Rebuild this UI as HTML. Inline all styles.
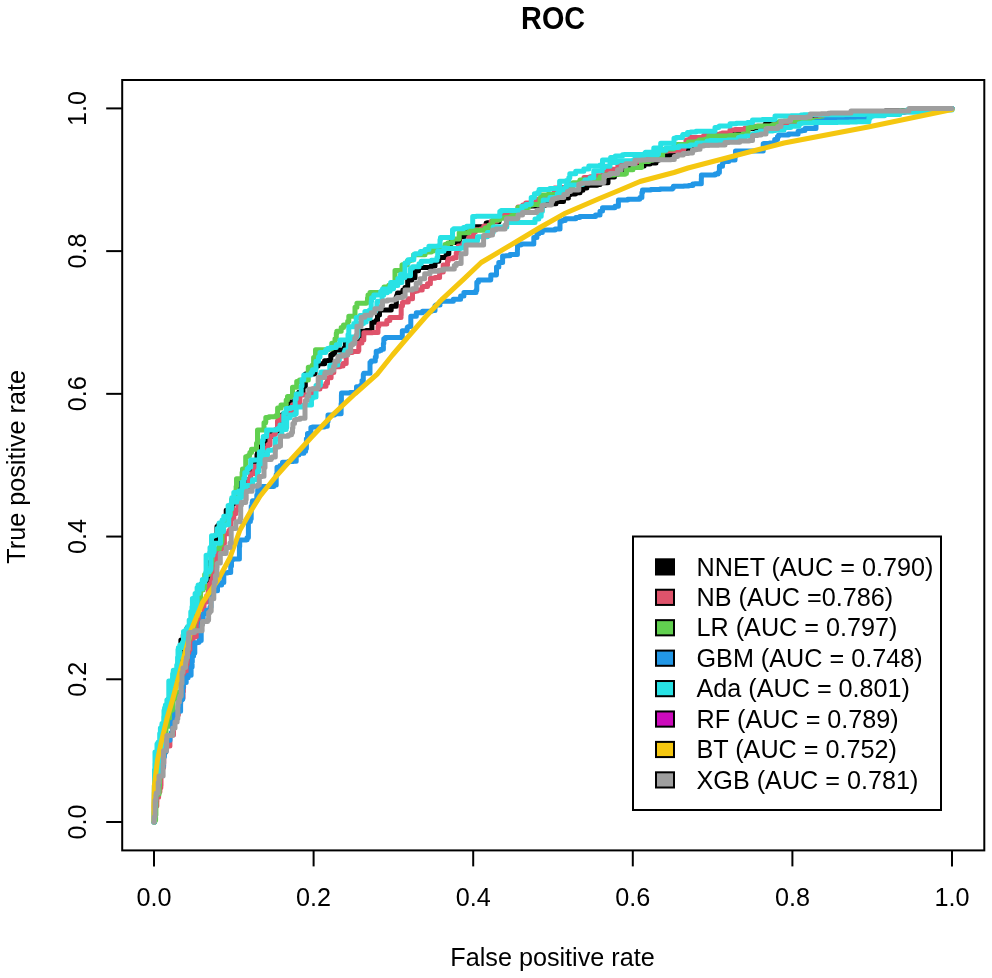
<!DOCTYPE html>
<html><head><meta charset="utf-8"><title>ROC</title>
<style>
html,body{margin:0;padding:0;background:#fff;}
svg{display:block;}
text{font-family:"Liberation Sans",sans-serif;fill:#000;}
</style></head>
<body>
<svg width="992" height="978" viewBox="0 0 992 978">
<rect x="0" y="0" width="992" height="978" fill="#ffffff"/>
<g id="curves">
<polyline points="154.0,822.0 154.3,822.0 154.3,821.1 154.3,819.2 154.5,819.2 155.0,819.2 155.0,808.5 155.0,802.5 155.5,802.5 155.5,798.3 155.7,798.3 156.0,798.3 156.0,792.0 156.0,791.0 156.0,791.0 156.0,784.9 156.0,784.7 156.2,784.7 156.2,779.4 156.5,779.4 156.5,778.1 156.9,778.1 156.9,761.0 156.9,761.0 156.9,759.0 157.0,759.0 157.0,754.0 159.0,754.0 159.9,754.0 159.9,750.7 159.9,745.0 161.8,745.0 162.2,745.0 162.2,734.8 163.2,734.8 163.2,734.5 163.2,730.8 164.0,730.8 164.0,730.8 164.0,727.0 164.2,727.0 164.2,722.7 167.0,722.7 167.0,720.9 167.0,716.6 167.5,716.6 167.5,713.3 169.1,713.3 169.3,713.3 169.3,707.1 170.0,707.1 170.0,702.0 170.0,698.9 171.6,698.9 171.6,694.0 173.0,694.0 173.1,694.0 173.1,690.6 174.4,690.6 174.4,686.1 175.0,686.1 175.0,682.1 175.0,682.1 175.0,674.0 176.3,674.0 176.3,673.9 177.8,673.9 177.8,667.3 178.2,667.3 178.2,662.5 179.7,662.5 179.7,660.3 180.2,660.3 180.2,650.1 180.5,650.1 180.5,649.0 180.9,649.0 180.9,645.8 180.9,639.9 183.3,639.9 183.3,635.1 184.1,635.1 184.1,633.0 187.0,633.0 187.0,628.0 189.4,628.0 189.4,626.3 189.8,626.3 189.8,622.0 191.5,622.0 195.3,622.0 195.3,618.9 196.7,618.9 196.7,612.4 196.7,612.2 197.1,612.2 197.1,610.0 198.0,610.0 198.0,607.7 198.0,607.7 198.0,602.8 198.5,602.8 199.5,602.8 199.5,596.9 199.5,589.0 200.0,589.0 200.0,585.4 201.5,585.4 201.5,584.0 205.5,584.0 205.7,584.0 205.7,583.4 205.7,583.3 206.2,583.3 206.7,583.3 206.7,578.9 208.0,578.9 208.0,576.7 208.2,576.7 208.2,566.1 208.2,562.8 208.6,562.8 211.3,562.8 211.3,555.4 212.0,555.4 212.0,549.0 213.1,549.0 213.1,544.3 213.1,541.2 214.6,541.2 217.0,541.2 217.0,537.0 217.0,526.5 217.3,526.5 218.5,526.5 218.5,525.4 218.5,525.0 222.0,525.0 224.5,525.0 224.5,524.8 226.2,524.8 226.2,524.3 226.2,510.3 229.4,510.3 231.4,510.3 231.4,509.2 232.0,509.2 232.0,507.0 232.0,503.5 233.8,503.5 234.5,503.5 234.5,503.2 234.5,497.0 235.5,497.0 236.5,497.0 236.5,496.6 236.5,493.0 240.5,493.0 240.5,482.5 242.1,482.5 242.1,482.2 243.0,482.2 243.0,481.0 245.5,481.0 249.4,481.0 249.4,478.9 250.4,478.9 250.4,477.6 250.5,477.6 250.5,471.0 252.7,471.0 252.7,466.6 252.7,464.8 256.2,464.8 257.0,464.8 257.0,462.0 257.0,454.6 257.6,454.6 257.6,450.0 258.3,450.0 258.6,450.0 258.6,446.8 263.8,446.8 263.8,445.2 264.5,445.2 264.5,442.0 264.5,441.0 265.5,441.0 265.5,436.5 271.2,436.5 272.0,436.5 272.0,432.0 279.9,432.0 279.9,430.3 279.9,428.9 280.3,428.9 282.0,428.9 282.0,427.0 282.0,419.1 282.5,419.1 282.5,414.5 283.3,414.5 283.6,414.5 283.6,414.0 288.0,414.0 288.0,413.0 288.0,412.5 288.1,412.5 288.9,412.5 288.9,411.6 288.9,401.9 294.7,401.9 294.7,400.5 298.0,400.5 298.8,400.5 298.8,399.4 298.8,392.3 299.2,392.3 303.0,392.3 303.0,389.5 303.0,386.3 303.7,386.3 305.3,386.3 305.3,383.5 305.3,377.0 305.5,377.0 305.5,374.1 305.6,374.1 312.5,374.1 312.5,374.0 314.2,374.0 314.2,373.5 315.0,373.5 315.0,366.7 315.0,366.0 318.0,366.0 318.0,363.8 320.0,363.8 324.6,363.8 324.6,360.7 327.5,360.7 327.5,360.6 330.8,360.6 330.8,359.1 330.8,355.0 332.5,355.0 332.5,353.6 333.2,353.6 334.7,353.6 334.7,350.1 341.2,350.1 341.2,350.0 344.5,350.0 344.5,347.5 344.5,347.4 345.4,347.4 345.4,343.2 351.4,343.2 352.0,343.2 352.0,342.0 352.0,341.2 352.3,341.2 355.5,341.2 355.5,341.2 355.5,339.4 360.3,339.4 360.5,339.4 360.5,336.1 360.5,331.2 366.2,331.2 366.2,330.4 368.0,330.4 371.9,330.4 371.9,322.3 376.0,322.3 376.0,320.6 377.5,320.6 377.5,320.0 377.5,314.9 378.2,314.9 379.5,314.9 379.5,310.8 379.5,310.0 383.8,310.0 383.8,309.9 390.6,309.9 391.2,309.9 391.2,306.2 396.3,306.2 396.3,297.9 396.3,296.8 396.9,296.8 396.9,295.0 397.5,295.0 397.5,293.1 398.7,293.1 402.9,293.1 402.9,290.0 405.0,290.0 405.0,287.5 407.7,287.5 407.7,283.4 407.7,280.0 410.0,280.0 411.7,280.0 411.7,279.8 411.7,277.7 412.0,277.7 415.0,277.7 415.0,271.2 415.0,270.8 415.6,270.8 418.5,270.8 418.5,270.7 418.5,267.5 425.0,267.5 429.0,267.5 429.0,267.5 431.1,267.5 431.1,266.0 435.0,266.0 435.0,261.2 438.8,261.2 438.8,258.7 438.8,257.5 443.8,257.5 446.1,257.5 446.1,255.5 446.2,255.5 446.2,253.9 448.8,253.9 448.8,248.8 448.8,244.7 450.5,244.7 450.5,242.5 455.0,242.5 459.6,242.5 459.6,241.3 459.6,236.8 462.9,236.8 464.0,236.8 464.0,235.0 467.6,235.0 467.6,229.7 472.3,229.7 472.3,229.5 473.8,229.5 473.8,227.5 473.8,226.7 480.9,226.7 485.8,226.7 485.8,226.4 486.2,226.4 486.2,223.0 487.2,223.0 487.2,222.7 492.8,222.7 492.8,221.7 499.0,221.7 499.0,218.9 499.0,217.2 499.7,217.2 505.0,217.2 505.0,215.0 507.9,215.0 507.9,211.9 507.9,210.4 521.3,210.4 522.7,210.4 522.7,210.1 522.7,208.5 525.1,208.5 525.1,208.0 526.0,208.0 526.0,206.2 527.8,206.2 530.6,206.2 530.6,206.1 530.6,206.0 540.0,206.0 540.0,206.0 541.9,206.0 541.9,205.4 544.0,205.4 544.7,205.4 544.7,203.8 556.0,203.8 556.0,203.0 556.0,201.6 557.9,201.6 563.5,201.6 563.5,200.3 563.5,198.0 565.0,198.0 568.4,198.0 568.4,194.8 570.0,194.8 570.0,194.0 575.5,194.0 575.5,192.8 580.0,192.8 580.0,191.5 580.0,190.2 582.9,190.2 582.9,188.0 585.0,188.0 586.8,188.0 586.8,186.1 586.8,185.3 596.2,185.3 597.1,185.3 597.1,184.6 600.0,184.6 600.0,184.5 600.0,182.7 602.5,182.7 608.0,182.7 608.0,181.0 608.0,179.2 608.0,177.0 612.0,177.0 614.4,177.0 614.4,174.7 614.4,174.0 618.0,174.0 618.0,172.5 621.2,172.5 621.2,170.0 623.0,170.0 624.9,170.0 624.9,168.2 630.0,168.2 630.0,167.0 630.0,166.0 635.1,166.0 640.0,166.0 640.0,166.0 644.1,166.0 644.1,164.5 644.1,164.0 650.0,164.0 650.0,163.0 656.0,163.0 656.0,160.3 658.5,160.3 658.5,158.0 660.0,158.0 664.3,158.0 664.3,157.0 664.7,157.0 664.7,155.8 671.0,155.8 671.0,155.5 671.0,152.7 678.4,152.7 682.2,152.7 682.2,152.6 682.2,152.6 682.2,152.6 686.0,152.6 686.0,151.0 686.0,148.9 696.7,148.9 697.0,148.9 697.0,147.4 697.8,147.4 697.8,146.1 700.0,146.1 700.0,145.0 700.0,144.7 703.0,144.7 709.3,144.7 709.3,142.5 709.3,141.9 709.7,141.9 716.7,141.9 716.7,140.5 720.0,140.5 720.0,139.0 726.0,139.0 726.0,137.6 730.3,137.6 730.3,135.1 730.4,135.1 735.0,135.1 735.0,132.5 740.0,132.5 740.0,130.0 747.4,130.0 747.4,129.6 747.4,128.4 750.2,128.4 754.7,128.4 754.7,128.2 754.7,127.5 760.0,127.5 760.0,127.3 765.2,127.3 765.2,124.1 766.7,124.1 769.9,124.1 769.9,123.6 776.8,123.6 776.8,122.9 776.8,122.6 783.7,122.6 786.0,122.6 786.0,122.2 786.0,122.0 790.0,122.0 790.0,121.3 795.5,121.3 795.5,120.8 800.5,120.8 800.5,120.5 807.7,120.5 807.7,120.2 811.1,120.2 811.1,118.4 814.3,118.4 814.3,118.4 819.1,118.4 826.5,118.4 828.9,118.4 828.9,118.2 828.9,117.0 830.0,117.0 830.0,116.6 831.4,116.6 843.7,116.6 843.7,116.5 843.7,116.3 854.5,116.3 858.2,116.3 858.2,115.5 858.2,115.4 862.6,115.4 863.5,115.4 863.5,115.0 863.5,114.2 868.6,114.2 870.0,114.2 870.0,113.0 870.0,112.6 871.8,112.6 871.8,112.0 882.8,112.0 885.3,112.0 885.3,111.5 885.3,111.1 901.9,111.1 901.9,110.8 904.3,110.8 904.3,110.7 906.4,110.7 906.4,110.7 909.8,110.7 910.0,110.7 910.0,110.5 910.0,110.4 911.5,110.4 911.8,110.4 911.8,110.3 912.6,110.3 912.6,109.2 914.9,109.2 914.9,109.2 914.9,109.1 921.5,109.1 921.5,109.0 945.3,109.0 948.1,109.0 948.1,108.8 952.0,108.8 952.0,108.5" fill="none" stroke="#000000" stroke-width="5.0" stroke-linejoin="round" stroke-linecap="round"/>
<polyline points="154.0,822.0 154.2,822.0 154.2,814.6 154.3,814.6 154.3,805.9 156.8,805.9 156.8,804.3 156.8,801.9 156.9,801.9 156.9,798.0 157.0,798.0 157.0,797.2 158.6,797.2 158.6,791.8 159.9,791.8 159.9,787.8 160.8,787.8 160.8,785.5 161.0,785.5 161.0,785.5 161.0,775.0 161.1,775.0 161.1,771.9 161.1,767.5 162.2,767.5 163.6,767.5 163.6,763.3 163.8,763.3 163.8,752.0 166.0,752.0 166.0,752.0 166.0,746.0 169.8,746.0 169.9,746.0 169.9,735.6 170.5,735.6 170.5,735.3 170.5,735.0 171.0,735.0 173.5,735.0 173.5,729.0 173.7,729.0 173.7,726.5 173.7,720.9 175.6,720.9 176.0,720.9 176.0,718.0 176.0,714.7 177.1,714.7 178.4,714.7 178.4,711.5 178.4,704.0 179.6,704.0 180.6,704.0 180.6,699.8 181.0,699.8 181.0,698.0 183.0,698.0 183.0,693.8 183.0,691.8 183.1,691.8 183.4,691.8 183.4,687.8 183.6,687.8 183.6,679.3 185.0,679.3 185.0,678.0 185.2,678.0 185.2,675.9 185.8,675.9 185.8,673.5 185.8,672.5 187.6,672.5 187.6,660.5 188.0,660.5 189.0,660.5 189.0,658.0 189.0,654.9 189.1,654.9 190.7,654.9 190.7,651.5 190.7,645.9 191.9,645.9 193.0,645.9 193.0,640.0 193.0,637.2 193.1,637.2 193.1,636.7 194.3,636.7 197.1,636.7 197.1,627.6 197.1,622.0 198.0,622.0 198.2,622.0 198.2,621.4 200.1,621.4 200.1,620.0 201.7,620.0 201.7,615.9 202.5,615.9 202.5,613.9 204.0,613.9 204.0,604.0 204.0,602.1 205.4,602.1 206.8,602.1 206.8,598.0 206.8,595.5 208.0,595.5 208.2,595.5 208.2,587.4 208.2,585.0 210.0,585.0 210.1,585.0 210.1,583.8 211.0,583.8 211.0,583.0 211.0,581.6 211.8,581.6 211.8,579.4 212.9,579.4 212.9,567.2 213.8,567.2 214.2,567.2 214.2,562.8 216.6,562.8 216.6,550.6 216.9,550.6 216.9,550.0 219.6,550.0 219.6,549.9 219.6,549.4 221.4,549.4 221.4,548.2 222.5,548.2 222.5,543.4 224.4,543.4 224.4,533.8 227.5,533.8 228.9,533.8 228.9,530.6 230.4,530.6 230.4,529.1 230.8,529.1 230.8,524.1 230.8,518.8 233.8,518.8 233.8,513.7 235.7,513.7 235.7,510.0 237.5,510.0 237.9,510.0 237.9,504.0 238.2,504.0 238.2,501.6 238.2,497.0 239.5,497.0 241.2,497.0 241.2,493.8 241.2,492.7 241.4,492.7 244.0,492.7 244.0,486.9 248.8,486.9 248.8,483.8 248.8,479.6 248.8,479.6 250.4,479.6 250.4,478.9 250.4,473.8 252.5,473.8 253.9,473.8 253.9,471.0 253.9,466.2 257.5,466.2 260.3,466.2 260.3,465.0 260.3,460.0 261.2,460.0 262.3,460.0 262.3,458.6 264.7,458.6 264.7,457.8 264.7,448.5 265.3,448.5 267.8,448.5 267.8,444.7 270.0,444.7 270.0,442.0 270.0,436.0 274.0,436.0 274.0,434.3 275.4,434.3 275.4,429.6 276.9,429.6 277.5,429.6 277.5,421.1 277.9,421.1 277.9,420.3 280.9,420.3 280.9,417.8 282.0,417.8 282.0,417.2 282.0,416.0 285.0,416.0 285.0,414.9 287.7,414.9 287.7,413.0 292.5,413.0 292.5,413.0 292.5,408.8 292.5,404.7 298.7,404.7 298.7,402.5 298.8,402.5 299.9,402.5 299.9,397.5 299.9,395.0 303.8,395.0 308.1,395.0 308.1,394.7 312.0,394.7 312.0,392.0 312.0,389.0 313.0,389.0 319.9,389.0 319.9,387.9 319.9,386.2 322.5,386.2 326.0,386.2 326.0,383.2 327.5,383.2 327.5,378.8 327.5,377.8 331.1,377.8 331.1,372.5 333.8,372.5 333.8,366.8 337.5,366.8 340.0,366.8 340.0,366.0 343.0,366.0 343.0,363.6 346.2,363.6 346.2,360.0 346.2,352.6 350.4,352.6 352.2,352.6 352.2,351.6 352.2,351.4 355.1,351.4 358.3,351.4 358.3,350.4 358.8,350.4 358.8,348.8 358.8,348.8 358.8,342.9 361.9,342.9 361.9,339.9 363.8,339.9 363.8,336.2 363.9,336.2 363.9,332.7 372.5,332.7 372.5,332.5 378.0,332.5 378.0,331.7 378.0,326.4 378.2,326.4 378.8,326.4 378.8,325.0 378.8,324.0 381.4,324.0 386.8,324.0 386.8,321.7 386.8,320.4 389.8,320.4 389.8,317.5 392.5,317.5 393.1,317.5 393.1,317.5 401.0,317.5 401.0,315.1 401.2,315.1 401.2,312.5 401.2,305.8 402.5,305.8 402.5,302.5 403.8,302.5 403.8,302.1 404.0,302.1 408.2,302.1 408.2,298.7 412.5,298.7 412.5,297.5 412.5,291.6 415.5,291.6 415.5,291.0 417.6,291.0 417.6,290.0 420.0,290.0 422.2,290.0 422.2,289.9 422.2,286.5 423.5,286.5 427.5,286.5 427.5,283.8 430.4,283.8 430.4,281.8 430.4,278.3 430.8,278.3 435.0,278.3 435.0,277.5 439.6,277.5 439.6,277.1 439.6,272.0 440.0,272.0 443.2,272.0 443.2,266.4 443.2,265.0 445.0,265.0 447.5,265.0 447.5,261.0 448.3,261.0 448.3,258.7 453.0,258.7 453.0,257.8 456.2,257.8 456.2,255.0 456.2,252.9 457.8,252.9 458.3,252.9 458.3,250.9 458.3,246.0 463.0,246.0 463.0,243.3 465.7,243.3 465.7,242.9 468.7,242.9 468.7,237.5 470.0,237.5 473.5,237.5 473.5,233.7 473.5,232.1 475.3,232.1 475.3,229.7 480.7,229.7 480.7,229.0 482.0,229.0 483.8,229.0 483.8,226.2 483.8,226.1 488.3,226.1 491.2,226.1 491.2,221.2 496.8,221.2 496.8,218.8 500.0,218.8 500.0,214.9 502.6,214.9 502.6,214.5 505.0,214.5 505.0,214.0 516.3,214.0 516.3,212.0 518.0,212.0 518.0,208.7 518.0,207.1 519.0,207.1 519.0,207.0 520.0,207.0 522.8,207.0 522.8,206.2 522.8,204.9 525.8,204.9 525.8,203.0 535.6,203.0 535.6,202.5 536.2,202.5 536.2,199.2 541.2,199.2 548.4,199.2 548.4,198.4 548.4,196.8 548.9,196.8 548.9,195.0 550.0,195.0 550.0,194.3 552.1,194.3 552.1,193.9 554.4,193.9 554.4,188.1 558.9,188.1 558.9,187.5 564.0,187.5 567.8,187.5 567.8,185.3 567.8,185.1 567.9,185.1 567.9,183.5 569.5,183.5 580.0,183.5 580.0,181.0 584.0,181.0 584.0,177.5 590.1,177.5 590.1,176.7 592.9,176.7 592.9,176.7 595.7,176.7 595.7,175.8 603.0,175.8 603.0,174.3 603.4,174.3 603.4,174.2 605.4,174.2 605.4,170.0 605.4,170.0 610.0,170.0 610.7,170.0 610.7,169.2 616.2,169.2 616.2,169.0 617.9,169.0 617.9,162.5 617.9,162.5 625.0,162.5 625.0,162.5 629.6,162.5 629.6,162.2 637.0,162.2 637.0,160.0 640.0,160.0 641.8,160.0 641.8,159.6 641.8,158.1 653.0,158.1 653.4,158.1 653.4,156.1 653.4,152.8 659.4,152.8 659.4,152.0 660.0,152.0 660.0,151.4 663.6,151.4 663.6,150.7 673.6,150.7 677.7,150.7 677.7,150.6 681.4,150.6 681.4,150.4 682.8,150.4 682.8,149.5 683.9,149.5 683.9,146.1 686.0,146.1 686.0,140.0 690.0,140.0 690.0,137.5 691.4,137.5 692.2,137.5 703.7,137.5 703.7,135.4 710.2,135.4 710.2,134.5 710.7,134.5 710.7,134.5 710.7,134.4 720.0,134.4 720.0,133.7 722.3,133.7 722.3,132.9 730.0,132.9 730.0,132.5 730.0,130.0 735.0,130.0 735.0,129.6 740.5,129.6 745.0,129.6 745.0,128.0 749.8,128.0 749.8,127.7 752.5,127.7 752.5,127.5 752.5,126.6 753.5,126.6 753.5,126.3 762.0,126.3 762.0,126.2 767.9,126.2 772.5,126.2 772.5,126.0 774.6,126.0 774.6,124.1 774.6,124.0 778.8,124.0 778.8,124.0 784.0,124.0 786.3,124.0 786.3,122.4 786.3,122.0 795.0,122.0 795.0,121.6 809.4,121.6 809.5,121.6 809.5,121.2 809.5,121.0 810.9,121.0 814.9,121.0 814.9,119.7 820.2,119.7 820.2,119.5 820.2,118.8 826.6,118.8 830.0,118.8 830.0,118.5 830.0,117.7 837.6,117.7 840.2,117.7 840.2,117.6 843.8,117.6 843.8,117.1 847.9,117.1 847.9,116.4 848.2,116.4 848.2,116.4 848.2,115.9 848.9,115.9 848.9,115.8 857.7,115.8 861.4,115.8 861.4,114.6 861.4,114.0 870.0,114.0 870.0,113.9 870.5,113.9 877.9,113.9 877.9,113.6 877.9,113.0 880.2,113.0 880.2,112.7 882.5,112.7 882.8,112.7 882.8,112.7 899.0,112.7 899.0,112.3 904.8,112.3 904.8,111.5 904.8,111.0 910.0,111.0 910.0,110.8 916.4,110.8 918.5,110.8 918.5,110.5 918.5,110.4 922.6,110.4 922.6,109.7 939.6,109.7 943.6,109.7 943.6,109.5 943.6,109.3 948.5,109.3 948.5,109.2 948.9,109.2 948.9,108.8 950.5,108.8 950.5,108.5 952.0,108.5" fill="none" stroke="#DF536B" stroke-width="5.0" stroke-linejoin="round" stroke-linecap="round"/>
<polyline points="154.0,822.0 154.7,822.0 154.7,821.6 154.7,820.2 155.1,820.2 155.6,820.2 155.6,815.7 155.6,815.0 155.8,815.0 155.9,815.0 155.9,799.4 155.9,795.0 157.0,795.0 157.3,795.0 157.3,794.1 159.1,794.1 159.1,786.0 159.5,786.0 159.5,780.8 159.7,780.8 159.7,777.3 159.7,772.3 160.0,772.3 160.5,772.3 160.5,769.0 160.5,765.0 161.0,765.0 161.0,757.5 161.5,757.5 161.5,754.1 161.7,754.1 162.1,754.1 162.1,752.3 165.4,752.3 165.4,749.3 165.7,749.3 165.7,740.9 166.0,740.9 166.0,740.0 166.0,726.3 166.8,726.3 169.4,726.3 169.4,722.9 170.3,722.9 170.3,719.3 170.3,718.3 170.6,718.3 170.6,716.8 171.0,716.8 171.0,716.8 171.0,716.0 171.0,712.7 171.4,712.7 173.1,712.7 173.1,709.5 173.1,699.1 175.0,699.1 175.9,699.1 175.9,696.8 175.9,694.0 176.0,694.0 176.0,693.3 178.5,693.3 178.5,692.3 180.4,692.3 180.9,692.3 180.9,687.2 180.9,680.8 181.0,680.8 181.0,672.0 182.6,672.0 182.6,663.7 185.3,663.7 185.3,661.9 185.5,661.9 185.5,660.6 185.8,660.6 185.8,657.8 186.0,657.8 186.0,650.0 186.0,649.8 187.2,649.8 187.5,649.8 187.5,639.6 187.5,639.0 188.2,639.0 189.6,639.0 189.6,630.4 191.0,630.4 191.0,630.0 191.0,629.5 191.4,629.5 193.8,629.5 193.8,622.2 194.8,622.2 194.8,614.4 194.8,613.8 195.1,613.8 195.1,608.0 197.0,608.0 198.9,608.0 198.9,602.6 198.9,601.4 198.9,601.4 199.2,601.4 199.2,601.2 200.6,601.2 200.6,597.3 200.6,590.0 203.0,590.0 203.0,587.8 204.3,587.8 204.6,587.8 204.6,582.9 204.6,582.7 204.7,582.7 204.7,574.6 206.0,574.6 208.6,574.6 208.6,571.7 210.0,571.7 210.0,568.0 211.1,568.0 211.1,563.8 211.8,563.8 211.8,561.6 211.8,549.4 212.1,549.4 212.1,549.4 214.3,549.4 214.3,548.7 215.0,548.7 219.5,548.7 219.5,545.0 221.1,545.0 221.1,544.9 221.1,541.4 221.6,541.4 222.0,541.4 222.0,524.8 222.0,524.8 222.0,523.8 222.0,523.3 222.0,523.3 225.5,523.3 225.5,522.0 225.5,520.5 227.2,520.5 228.6,520.5 228.6,517.0 228.6,514.5 229.5,514.5 230.5,514.5 230.5,509.0 231.5,509.0 231.5,500.0 231.5,499.8 236.0,499.8 236.0,489.6 236.0,489.6 236.1,489.6 236.1,486.6 236.5,486.6 236.5,482.0 236.5,478.8 239.0,478.8 242.1,478.8 242.1,476.2 242.1,472.5 242.5,472.5 242.5,469.1 244.3,469.1 245.7,469.1 245.7,456.7 247.3,456.7 247.3,456.4 247.3,456.0 249.5,456.0 249.5,454.1 249.9,454.1 249.9,452.5 251.5,452.5 251.5,449.3 254.1,449.3 256.5,449.3 256.5,445.0 256.5,445.0 256.5,444.0 256.5,443.1 256.9,443.1 257.5,443.1 257.5,430.4 257.5,430.0 264.0,430.0 264.0,422.7 265.6,422.7 265.6,421.9 265.8,421.9 265.8,417.5 269.0,417.5 269.0,416.7 270.5,416.7 275.7,416.7 275.7,415.8 277.6,415.8 277.6,413.9 277.6,408.0 281.0,408.0 281.0,405.0 285.0,405.0 286.2,405.0 286.2,404.5 286.2,400.0 287.5,400.0 287.5,396.5 291.0,396.5 292.5,396.5 292.5,392.5 292.5,387.2 293.2,387.2 296.7,387.2 296.7,381.5 299.5,381.5 299.5,380.8 299.5,380.0 302.5,380.0 302.5,379.9 304.0,379.9 308.3,379.9 308.3,377.7 308.3,367.3 310.8,367.3 310.8,366.8 312.4,366.8 312.4,365.0 312.7,365.0 313.6,365.0 313.6,363.5 313.6,357.5 315.0,357.5 315.5,357.5 315.5,357.0 315.5,349.8 317.4,349.8 328.5,349.8 328.5,348.8 331.7,348.8 331.7,346.0 331.7,345.5 331.8,345.5 331.8,343.2 331.9,343.2 335.0,343.2 335.0,342.5 335.0,338.8 336.3,338.8 336.3,333.3 336.8,333.3 336.8,331.2 341.2,331.2 341.2,327.5 342.5,327.5 343.5,327.5 343.5,325.1 347.7,325.1 347.7,321.3 348.8,321.3 348.8,317.1 348.8,316.3 354.7,316.3 355.0,316.3 355.0,312.5 355.0,307.3 356.2,307.3 356.9,307.3 356.9,305.0 356.9,303.3 366.2,303.3 366.2,302.5 367.5,302.5 367.5,298.1 368.0,298.1 368.0,295.0 370.0,295.0 370.0,292.6 376.9,292.6 380.0,292.6 380.0,292.5 380.0,292.2 383.3,292.2 384.0,292.2 384.0,289.9 384.0,287.1 386.2,287.1 388.8,287.1 388.8,286.8 388.8,285.3 392.8,285.3 395.0,285.3 395.0,277.5 395.0,270.5 402.0,270.5 402.0,264.9 402.2,264.9 402.2,264.7 403.4,264.7 407.3,264.7 407.3,262.5 407.5,262.5 407.5,260.7 410.0,260.7 410.0,260.0 412.8,260.0 412.8,258.6 413.6,258.6 413.6,258.1 413.6,254.7 422.8,254.7 425.0,254.7 425.0,252.5 426.7,252.5 426.7,252.1 431.3,252.1 431.3,251.2 431.3,250.9 433.5,250.9 433.5,248.7 439.6,248.7 439.6,248.0 445.0,248.0 445.0,244.5 447.7,244.5 447.7,243.1 451.3,243.1 452.6,243.1 452.6,239.4 452.6,239.0 458.0,239.0 459.2,239.0 459.2,236.0 459.2,232.8 468.6,232.8 468.9,232.8 468.9,231.5 470.0,231.5 470.0,231.0 470.0,230.3 475.3,230.3 485.1,230.3 485.1,228.0 486.1,228.0 486.1,227.8 489.2,227.8 489.2,227.0 489.2,225.0 490.0,225.0 492.7,225.0 492.7,224.1 492.7,220.1 499.5,220.1 499.5,218.3 499.7,218.3 505.0,218.3 505.0,217.5 511.2,217.5 511.2,216.8 511.2,215.7 514.2,215.7 514.2,212.1 516.1,212.1 516.1,210.3 516.9,210.3 517.9,210.3 517.9,210.0 517.9,207.5 525.0,207.5 528.7,207.5 528.7,205.0 532.6,205.0 532.6,204.8 532.6,204.5 536.5,204.5 540.0,204.5 540.0,200.0 540.0,198.6 540.8,198.6 540.8,195.0 547.5,195.0 547.5,194.5 558.4,194.5 559.2,194.5 559.2,194.5 562.5,194.5 562.5,192.5 562.5,190.0 565.1,190.0 565.9,190.0 565.9,189.4 569.5,189.4 569.5,185.9 572.9,185.9 572.9,185.4 572.9,182.7 575.6,182.7 580.0,182.7 580.0,180.0 591.7,180.0 592.7,180.0 599.5,180.0 600.0,180.0 600.0,176.7 603.9,176.7 605.0,176.7 605.0,175.0 605.0,175.0 608.9,175.0 614.2,175.0 614.2,174.3 615.6,174.3 615.6,174.2 625.0,174.2 625.0,173.7 625.0,173.4 626.4,173.4 626.4,169.8 632.9,169.8 632.9,167.5 635.0,167.5 641.5,167.5 641.5,166.2 641.5,161.5 645.8,161.5 648.9,161.5 648.9,160.3 652.4,160.3 652.4,158.9 653.6,158.9 653.6,158.2 653.6,157.5 655.0,157.5 655.0,157.2 659.9,157.2 659.9,156.8 662.6,156.8 662.6,151.0 665.0,151.0 665.0,149.0 673.0,149.0 673.6,149.0 673.6,148.2 673.6,146.7 676.2,146.7 676.2,144.4 681.0,144.4 681.0,144.4 688.3,144.4 688.4,144.4 688.4,143.4 688.4,142.1 695.4,142.1 695.4,141.8 699.0,141.8 699.0,140.0 701.0,140.0 701.0,139.9 704.2,139.9 704.2,139.6 705.0,139.6 705.0,139.3 708.7,139.3 708.7,136.0 720.0,136.0 720.0,135.9 728.6,135.9 729.4,135.9 729.4,135.6 734.8,135.6 734.8,135.0 741.0,135.0 742.9,135.0 742.9,134.6 742.9,134.1 746.5,134.1 748.2,134.1 748.2,132.4 748.2,127.5 752.5,127.5 752.5,126.8 757.5,126.8 757.5,125.9 758.5,125.9 771.2,125.9 771.2,125.5 772.5,125.5 772.5,125.0 772.5,124.9 772.5,124.9 772.5,124.7 779.3,124.7 779.3,121.5 784.0,121.5 784.0,121.0 791.2,121.0 795.0,121.0 795.0,121.0 796.1,121.0 796.1,120.9 796.1,120.5 809.8,120.5 809.8,120.5 819.9,120.5 819.9,120.0 823.4,120.0 824.1,120.0 824.1,119.5 826.0,119.5 826.0,119.4 826.0,118.4 831.9,118.4 844.8,118.4 844.8,118.2 851.0,118.2 851.0,117.8 851.2,117.8 851.2,117.6 851.2,117.3 854.4,117.3 854.4,116.0 857.4,116.0 857.4,115.0 860.0,115.0 860.0,113.4 860.9,113.4 860.9,112.8 863.9,112.8 863.9,112.4 869.5,112.4 869.5,112.0 878.7,112.0 887.1,112.0 887.1,111.9 887.1,111.9 888.4,111.9 890.3,111.9 890.3,111.9 890.3,111.5 900.0,111.5 900.6,111.5 900.6,111.3 900.6,111.0 902.5,111.0 902.5,110.9 904.2,110.9 907.9,110.9 907.9,110.8 907.9,110.2 912.0,110.2 912.5,110.2 912.5,109.9 912.5,109.8 930.4,109.8 930.4,109.7 933.5,109.7 933.5,109.2 933.8,109.2 950.3,109.2 950.3,109.1 952.0,109.1 952.0,108.5" fill="none" stroke="#61D04F" stroke-width="5.0" stroke-linejoin="round" stroke-linecap="round"/>
<polyline points="154.0,822.0 154.2,822.0 154.2,820.5 154.2,813.2 154.2,813.2 154.4,813.2 154.4,804.4 154.4,801.8 154.6,801.8 154.6,800.0 155.6,800.0 155.6,785.6 155.9,785.6 155.9,785.5 156.2,785.5 158.3,785.5 158.3,785.1 158.5,785.1 158.5,782.0 158.5,773.9 158.8,773.9 158.8,772.3 161.9,772.3 161.9,771.3 162.0,771.3 162.5,771.3 162.5,766.0 163.6,766.0 163.6,756.8 164.4,756.8 164.4,751.9 164.4,751.5 165.5,751.5 166.0,751.5 166.0,750.0 166.0,746.3 166.6,746.3 166.6,740.2 167.7,740.2 170.0,740.2 170.0,738.0 170.0,734.9 171.3,734.9 171.3,732.5 172.1,732.5 172.4,732.5 172.4,722.0 172.4,722.0 174.5,722.0 174.5,714.5 175.4,714.5 177.0,714.5 177.0,712.0 177.4,712.0 177.4,711.3 180.6,711.3 180.6,709.3 180.6,700.0 181.0,700.0 181.9,700.0 181.9,699.3 182.7,699.3 182.7,687.8 183.4,687.8 183.4,684.3 183.4,682.5 186.2,682.5 186.2,677.7 188.1,677.7 188.1,675.2 188.8,675.2 191.1,675.2 191.1,671.4 191.1,667.0 192.1,667.0 192.1,662.1 192.3,662.1 192.3,657.5 192.5,657.5 192.5,656.0 193.6,656.0 193.6,653.1 194.8,653.1 194.8,642.8 197.4,642.8 197.4,642.5 198.8,642.5 198.8,642.0 199.2,642.0 199.2,640.6 200.4,640.6 201.2,640.6 201.2,630.0 201.2,623.3 201.7,623.3 201.7,622.2 203.2,622.2 203.2,614.0 204.2,614.0 204.2,613.8 205.0,613.8 205.0,613.3 206.5,613.3 206.5,610.3 210.0,610.3 210.0,606.9 210.3,606.9 211.0,606.9 211.0,600.0 211.3,600.0 211.3,594.3 211.3,590.7 211.9,590.7 217.5,590.7 217.5,590.0 217.5,585.1 221.6,585.1 221.6,582.6 222.4,582.6 223.8,582.6 223.8,580.0 223.8,573.1 227.1,573.1 227.5,573.1 227.5,572.5 230.7,572.5 230.7,565.9 231.5,565.9 231.5,562.3 231.5,560.0 232.5,560.0 232.5,559.1 233.1,559.1 239.4,559.1 239.4,546.6 239.7,546.6 239.7,542.0 239.7,540.8 239.8,540.8 239.8,540.0 240.0,540.0 242.5,540.0 242.5,539.9 246.4,539.9 246.4,539.7 247.1,539.7 247.1,537.5 248.4,537.5 248.4,521.4 250.4,521.4 250.4,520.4 250.4,518.8 251.2,518.8 251.2,506.2 251.7,506.2 252.1,506.2 252.1,504.3 252.1,502.5 252.5,502.5 252.5,500.8 252.8,500.8 256.8,500.8 256.8,494.9 257.7,494.9 257.7,491.7 257.7,490.0 261.2,490.0 261.2,487.6 262.5,487.6 262.5,486.6 273.7,486.6 273.7,485.1 273.8,485.1 276.2,485.1 276.2,483.8 276.2,474.5 276.8,474.5 277.0,474.5 277.0,472.9 277.0,467.2 280.1,467.2 280.1,465.5 281.8,465.5 282.5,465.5 282.5,462.5 282.5,462.3 288.3,462.3 288.3,461.4 293.5,461.4 293.5,461.2 296.2,461.2 296.2,455.0 298.8,455.0 298.8,453.3 300.3,453.3 303.8,453.3 303.8,452.5 303.8,451.3 305.6,451.3 305.6,448.5 306.4,448.5 306.4,438.7 307.5,438.7 307.5,436.2 307.5,433.5 310.5,433.5 310.9,433.5 310.9,428.3 310.9,427.5 312.5,427.5 312.5,426.9 323.3,426.9 324.4,426.9 324.4,426.7 324.4,426.2 326.2,426.2 327.3,426.2 327.3,424.0 327.3,421.6 327.9,421.6 328.0,421.6 328.0,416.1 328.0,415.0 334.5,415.0 334.5,413.8 338.8,413.8 341.1,413.8 341.1,412.0 341.1,403.8 341.2,403.8 341.4,403.8 341.4,394.7 341.5,394.7 341.5,394.4 341.5,393.1 343.9,393.1 350.0,393.1 350.0,392.5 355.6,392.5 355.6,391.6 356.5,391.6 356.5,386.8 360.6,386.8 360.6,385.2 361.2,385.2 361.2,385.0 362.0,385.0 362.0,380.4 363.3,380.4 363.3,374.6 363.8,374.6 363.8,373.8 363.8,373.2 365.7,373.2 370.0,373.2 370.0,371.2 370.0,362.3 371.2,362.3 371.2,361.2 371.2,361.1 372.7,361.1 375.3,361.1 375.3,357.1 376.2,357.1 376.2,351.2 379.0,351.2 379.0,350.4 380.9,350.4 380.9,349.3 383.4,349.3 383.4,343.5 383.8,343.5 383.8,338.8 385.3,338.8 385.3,338.5 385.3,337.6 388.3,337.6 388.3,337.6 389.2,337.6 389.2,337.5 401.2,337.5 402.3,337.5 402.3,330.7 407.2,330.7 407.2,329.6 407.2,327.5 407.5,327.5 407.5,327.1 408.5,327.1 408.5,326.4 410.8,326.4 410.8,316.2 413.8,316.2 416.3,316.2 416.3,312.7 422.4,312.7 422.4,311.8 422.5,311.8 422.5,311.2 431.5,311.2 431.5,310.6 433.5,310.6 433.5,310.4 435.0,310.4 435.0,310.0 435.0,305.8 435.8,305.8 435.8,305.0 440.0,305.0 440.0,301.7 441.5,301.7 441.5,301.2 448.8,301.2 453.3,301.2 453.3,301.1 453.3,299.2 458.1,299.2 460.6,299.2 460.6,299.0 460.6,296.0 462.5,296.0 463.9,296.0 463.9,293.0 463.9,292.5 471.2,292.5 476.0,292.5 476.0,290.2 476.8,290.2 476.8,282.2 478.4,282.2 478.4,280.0 478.4,280.0 481.2,280.0 490.6,280.0 490.6,279.5 490.8,279.5 490.8,277.1 490.8,275.0 492.5,275.0 496.3,275.0 496.3,274.5 496.5,274.5 496.5,271.8 496.5,267.1 498.1,267.1 498.8,267.1 498.8,262.5 502.6,262.5 502.6,255.9 505.8,255.9 505.8,255.8 508.1,255.8 508.1,255.8 510.0,255.8 510.0,255.0 510.0,254.4 512.6,254.4 517.4,254.4 517.4,249.6 517.5,249.6 517.5,247.5 517.5,244.9 518.7,244.9 520.8,244.9 520.8,244.6 521.6,244.6 521.6,244.1 533.8,244.1 533.8,243.8 533.8,237.5 536.9,237.5 536.9,237.5 536.9,233.8 537.5,233.8 538.9,233.8 538.9,232.4 542.3,232.4 542.3,230.4 542.3,230.0 547.5,230.0 552.4,230.0 552.4,229.9 555.1,229.9 555.1,229.0 560.0,229.0 560.0,227.5 560.0,221.3 562.2,221.3 562.2,220.6 565.2,220.6 565.2,218.8 567.5,218.8 575.8,218.8 575.8,217.8 575.8,217.5 579.7,217.5 579.7,216.4 590.2,216.4 590.2,216.4 594.1,216.4 595.5,216.4 595.5,215.6 595.5,215.0 597.5,215.0 600.0,215.0 600.0,211.2 601.3,211.2 601.3,210.9 602.5,210.9 602.5,210.5 602.5,207.8 614.8,207.8 614.8,207.5 615.0,207.5 615.0,206.3 617.6,206.3 618.4,206.3 618.4,200.1 618.4,200.0 622.5,200.0 627.7,200.0 627.7,199.9 627.7,199.2 632.4,199.2 639.5,199.2 639.5,198.9 639.5,198.8 640.0,198.8 640.0,197.6 641.9,197.6 641.9,192.5 642.5,192.5 642.5,190.0 647.5,190.0 650.8,190.0 650.8,189.4 650.8,189.4 657.5,189.4 660.1,189.4 660.1,189.1 672.4,189.1 672.4,188.1 672.5,188.1 672.5,188.0 672.5,187.7 673.4,187.7 673.4,186.3 683.9,186.3 683.9,185.9 687.1,185.9 688.7,185.9 688.7,185.5 692.8,185.5 692.8,184.2 692.8,184.0 694.8,184.0 694.8,183.7 700.0,183.7 701.3,183.7 701.3,182.0 701.3,178.7 701.4,178.7 701.4,175.0 706.0,175.0 715.0,175.0 715.0,174.5 715.0,174.1 718.0,174.1 718.0,172.5 718.7,172.5 719.4,172.5 719.4,166.3 722.5,166.3 722.5,165.0 722.5,163.5 723.0,163.5 723.0,161.4 728.7,161.4 728.7,160.0 735.0,160.0 735.0,156.8 735.5,156.8 735.5,151.0 736.0,151.0 736.8,151.0 747.1,151.0 755.4,151.0 756.8,151.0 762.5,151.0 763.2,151.0 763.2,146.6 763.2,143.7 763.7,143.7 763.7,143.5 769.7,143.5 769.7,143.1 774.7,143.1 774.7,139.5 777.5,139.5 777.5,136.6 778.6,136.6 778.6,135.0 781.0,135.0 788.5,135.0 788.5,134.0 793.9,134.0 798.1,134.0 798.1,131.3 798.5,131.3 798.5,131.0 801.9,131.0 801.9,130.6 804.9,130.6 804.9,129.6 804.9,128.4 813.6,128.4 816.0,128.4 816.0,128.0 816.0,121.4 816.5,121.4 822.0,121.4 822.0,121.0 826.0,121.0 826.0,120.0 826.0,119.4 828.1,119.4 833.8,119.4 833.8,119.4 835.9,119.4 835.9,119.2 843.8,119.2 843.8,119.1 843.8,118.6 846.4,118.6 846.4,118.2 848.7,118.2 848.7,118.1 858.5,118.1 858.5,118.0 863.5,118.0 869.9,118.0 869.9,117.1 869.9,114.5 882.5,114.5 882.5,114.1 884.0,114.1 884.0,114.0 885.0,114.0 886.0,114.0 886.0,113.7 887.3,113.7 887.3,112.9 891.9,112.9 891.9,112.9 900.0,112.9 900.0,112.5 900.0,112.2 901.6,112.2 903.4,112.2 903.4,111.7 903.4,111.7 910.9,111.7 917.2,111.7 917.2,110.6 917.2,110.0 925.0,110.0 929.2,110.0 929.2,109.5 939.7,109.5 939.7,109.5 939.7,109.4 945.7,109.4 950.8,109.4 950.8,108.9 950.8,108.5 952.0,108.5" fill="none" stroke="#2297E6" stroke-width="5.0" stroke-linejoin="round" stroke-linecap="round"/>
<polyline points="154.0,822.0 154.2,822.0 154.2,821.1 154.2,807.1 154.2,807.1 154.2,801.2 154.2,792.5 154.2,792.5 154.3,792.5 154.3,791.8 154.3,791.8 154.3,790.0 154.3,785.8 154.5,785.8 154.5,785.4 154.5,784.7 154.5,784.7 154.5,769.6 154.8,769.6 154.9,769.6 154.9,763.7 155.0,763.7 155.0,757.0 155.0,752.0 157.0,752.0 157.0,743.9 158.0,743.9 158.0,742.2 159.7,742.2 159.7,733.4 160.4,733.4 160.4,727.9 161.7,727.9 161.8,727.9 161.8,725.9 161.8,725.0 162.0,725.0 162.0,723.6 163.9,723.6 164.0,723.6 164.0,717.1 164.9,717.1 164.9,713.0 164.9,707.4 166.1,707.4 166.9,707.4 166.9,700.6 166.9,700.0 168.0,700.0 168.0,699.9 169.9,699.9 169.9,692.5 171.2,692.5 171.2,685.6 171.6,685.6 172.6,685.6 172.6,673.9 173.0,673.9 173.0,673.7 173.0,672.5 173.1,672.5 173.3,672.5 173.3,670.2 177.3,670.2 177.3,664.0 177.3,664.0 177.6,664.0 177.6,657.2 178.0,657.2 178.0,649.5 178.4,649.5 178.4,647.5 178.8,647.5 179.8,647.5 179.8,646.7 179.8,644.9 183.5,644.9 183.5,631.5 185.6,631.5 185.6,631.5 185.6,631.2 187.6,631.2 187.6,630.6 187.6,626.5 189.2,626.5 189.2,620.0 190.0,620.0 190.8,620.0 190.8,611.8 195.2,611.8 195.2,609.3 195.2,608.8 196.2,608.8 196.5,608.8 196.5,602.5 197.1,602.5 197.1,599.1 197.1,587.5 197.8,587.5 197.8,587.5 198.1,587.5 198.1,584.9 202.2,584.9 202.2,582.0 203.8,582.0 204.7,582.0 204.7,578.9 205.9,578.9 205.9,572.6 206.1,572.6 206.1,569.5 206.1,555.3 206.9,555.3 207.7,555.3 207.7,555.0 207.7,554.9 209.7,554.9 209.7,552.1 209.9,552.1 210.0,552.1 210.0,547.5 211.5,547.5 211.5,539.4 211.5,535.7 213.5,535.7 215.0,535.7 215.0,535.0 217.2,535.0 217.2,528.5 219.1,528.5 219.1,522.9 219.1,522.9 220.9,522.9 222.1,522.9 222.1,520.0 223.8,520.0 223.8,516.2 228.1,516.2 228.1,510.4 228.1,505.5 229.9,505.5 230.0,505.5 230.0,505.0 231.8,505.0 231.8,498.1 231.8,497.8 233.5,497.8 233.8,497.8 233.8,495.0 233.8,492.5 236.7,492.5 238.8,492.5 238.8,491.2 238.8,490.9 241.9,490.9 241.9,482.2 242.6,482.2 243.8,482.2 243.8,478.8 243.8,478.3 244.8,478.3 244.8,472.4 247.2,472.4 247.2,468.8 248.8,468.8 248.8,467.2 249.6,467.2 249.6,467.1 250.7,467.1 250.7,460.0 255.0,460.0 255.0,460.0 256.8,460.0 259.4,460.0 259.4,454.4 259.4,451.9 259.6,451.9 259.6,451.8 261.8,451.8 262.5,451.8 262.5,440.0 263.2,440.0 263.2,436.6 266.6,436.6 266.6,434.2 266.6,430.0 270.0,430.0 276.4,430.0 276.4,429.3 278.1,429.3 278.1,428.2 280.0,428.2 280.0,425.0 282.2,425.0 282.2,425.0 283.8,425.0 283.8,423.5 283.8,412.7 286.0,412.7 286.2,412.7 286.2,411.2 286.2,408.4 290.0,408.4 290.6,408.4 290.6,407.6 295.2,407.6 295.2,399.1 296.2,399.1 296.2,398.8 296.2,394.1 297.5,394.1 301.2,394.1 301.2,393.2 301.2,387.5 301.2,387.5 301.2,386.0 302.0,386.0 302.0,379.7 302.4,379.7 303.8,379.7 303.8,375.0 311.0,375.0 311.0,375.0 311.0,372.5 312.5,372.5 312.5,369.7 315.4,369.7 316.0,369.7 316.0,369.5 316.0,361.2 316.2,361.2 318.5,361.2 318.5,357.1 320.0,357.1 320.0,352.5 325.6,352.5 325.6,352.2 325.6,350.0 327.5,350.0 327.5,348.5 330.4,348.5 330.4,347.4 332.2,347.4 336.2,347.4 336.2,345.0 336.2,344.8 339.9,344.8 339.9,340.0 342.5,340.0 348.0,340.0 348.0,339.9 348.0,334.5 348.2,334.5 348.8,334.5 348.8,330.0 348.8,326.8 352.3,326.8 353.8,326.8 353.8,325.0 353.8,323.5 356.2,323.5 356.2,323.5 356.2,318.6 356.2,317.5 360.0,317.5 360.0,315.4 364.9,315.4 364.9,311.6 367.8,311.6 369.4,311.6 369.4,310.7 369.4,310.0 371.2,310.0 371.2,301.2 371.6,301.2 371.6,297.8 372.1,297.8 373.8,297.8 373.8,295.0 379.6,295.0 379.6,294.9 380.7,294.9 380.7,291.4 382.5,291.4 382.5,290.0 382.5,288.9 383.0,288.9 392.5,288.9 392.5,288.8 393.5,288.8 393.5,287.1 393.5,285.5 397.8,285.5 397.8,278.4 399.6,278.4 400.0,278.4 400.0,277.5 400.0,276.9 400.2,276.9 400.5,276.9 400.5,274.2 405.0,274.2 405.0,268.8 405.0,263.1 406.3,263.1 408.1,263.1 408.1,261.4 408.1,259.7 409.3,259.7 413.8,259.7 413.8,254.7 415.0,254.7 415.0,253.8 420.5,253.8 420.5,252.8 420.5,251.4 424.1,251.4 425.0,251.4 425.0,250.0 425.0,249.5 428.9,249.5 428.9,246.2 432.5,246.2 438.0,246.2 438.0,245.8 440.0,245.8 440.0,244.0 440.0,239.7 440.5,239.7 440.5,237.5 446.2,237.5 452.5,237.5 452.5,236.2 452.5,229.7 453.7,229.7 453.7,228.8 457.5,228.8 463.5,228.8 463.5,228.7 463.5,227.5 465.0,227.5 466.7,227.5 466.7,226.2 472.7,226.2 472.7,225.0 472.7,216.6 475.7,216.6 476.2,216.6 476.2,216.2 481.5,216.2 483.7,216.2 484.2,216.2 498.8,216.2 499.8,216.2 499.8,211.4 501.2,211.4 501.2,210.6 510.6,210.6 513.3,210.6 517.5,210.6 521.9,210.6 521.9,208.5 521.9,206.2 522.5,206.2 526.0,206.2 526.0,204.6 526.0,204.4 530.0,204.4 530.0,203.7 531.2,203.7 531.2,197.5 532.5,197.5 534.4,197.5 534.4,196.1 534.4,193.8 537.5,193.8 537.5,192.5 539.1,192.5 539.1,189.4 543.8,189.4 543.8,189.4 546.7,189.4 549.8,189.4 549.8,188.6 556.2,188.6 556.2,188.5 559.6,188.5 559.6,185.1 559.6,181.2 561.2,181.2 566.3,181.2 566.3,180.5 568.8,180.5 568.8,178.8 568.8,177.7 569.8,177.7 569.8,173.8 575.0,173.8 575.7,173.8 575.7,172.7 575.7,171.2 583.8,171.2 583.8,168.9 585.3,168.9 588.8,168.9 588.8,166.2 588.8,166.0 596.8,166.0 600.0,166.0 600.0,165.0 602.5,165.0 602.5,160.0 602.5,160.0 607.9,160.0 610.6,160.0 610.6,157.6 610.6,157.5 615.0,157.5 615.3,157.5 615.3,156.1 622.5,156.1 622.5,155.0 622.5,154.8 624.1,154.8 624.1,154.6 624.6,154.6 624.6,154.5 630.4,154.5 630.4,154.5 645.0,154.5 645.0,152.7 645.5,152.7 645.5,152.2 647.2,152.2 653.8,152.2 653.8,148.8 653.8,148.0 658.8,148.0 660.7,148.0 660.7,146.1 660.7,143.3 662.5,143.3 666.1,143.3 666.1,143.3 674.0,143.3 674.0,143.0 674.0,138.3 676.1,138.3 676.1,137.5 677.5,137.5 682.4,137.5 682.4,135.6 682.9,135.6 682.9,134.6 687.5,134.6 687.5,132.5 687.5,132.4 690.7,132.4 690.7,132.0 693.7,132.0 696.0,132.0 696.0,131.3 699.8,131.3 699.8,131.3 710.2,131.3 715.0,131.3 715.0,131.0 715.0,127.5 718.7,127.5 718.7,126.4 719.4,126.4 719.4,126.0 730.0,126.0 730.0,123.7 735.0,123.7 736.2,123.7 736.2,123.3 739.7,123.3 739.7,123.2 747.5,123.2 747.5,122.5 752.5,122.5 752.5,120.0 762.4,120.0 762.4,119.6 765.4,119.6 765.4,119.5 765.4,119.4 769.6,119.4 775.0,119.4 775.0,119.4 775.0,116.0 778.7,116.0 780.3,116.0 791.0,116.0 791.0,115.7 797.8,115.7 801.0,115.7 801.0,115.0 802.4,115.0 803.5,115.0 803.5,115.0 803.5,114.8 807.5,114.8 812.6,114.8 812.6,114.8 818.9,114.8 818.9,114.8 818.9,114.7 828.9,114.7 828.9,114.7 831.6,114.7 844.0,114.7 844.0,114.6 844.0,114.6 848.5,114.6 848.5,114.5 851.0,114.5 864.7,114.5 864.7,114.4 864.7,114.3 867.5,114.3 874.8,114.3 874.8,113.9 874.8,113.6 880.0,113.6 881.1,113.6 881.1,113.3 881.1,113.0 882.0,113.0 882.0,112.6 885.6,112.6 885.6,112.4 885.9,112.4 885.9,112.2 887.0,112.2 900.0,112.2 900.0,112.0 900.0,111.3 902.0,111.3 905.1,111.3 905.1,110.9 907.4,110.9 907.4,110.7 907.4,109.8 908.8,109.8 908.8,109.6 920.8,109.6 920.8,109.5 925.5,109.5 925.5,109.2 932.1,109.2 932.1,109.2 943.2,109.2 943.2,109.0 943.7,109.0 943.7,108.8 944.2,108.8 952.0,108.8 952.0,108.5" fill="none" stroke="#28E2E5" stroke-width="5.0" stroke-linejoin="round" stroke-linecap="round"/>
<polyline points="154.0,822.0 154.0,811.9 154.5,811.9 154.5,808.2 154.5,806.7 154.9,806.7 155.0,806.7 155.0,795.0 155.3,795.0 155.3,793.9 155.3,793.5 155.6,793.5 155.6,793.5 155.6,792.3 156.0,792.3 156.0,785.0 156.3,785.0 156.3,782.2 157.0,782.2 157.0,779.1 157.0,776.3 158.4,776.3 158.4,776.3 158.4,771.6 158.4,766.0 158.5,766.0 159.0,766.0 159.0,755.0 161.1,755.0 161.1,754.3 161.1,747.4 161.6,747.4 161.8,747.4 161.8,746.0 162.2,746.0 162.2,740.0 162.2,730.6 162.6,730.6 163.0,730.6 163.0,730.0 163.0,729.7 163.7,729.7 164.0,729.7 164.0,729.6 164.0,729.6 164.0,712.5 164.0,710.5 164.6,710.5 164.6,708.4 165.4,708.4 165.4,705.0 168.0,705.0 168.3,705.0 168.3,698.4 168.8,698.4 168.8,694.3 168.8,680.9 170.5,680.9 172.5,680.9 172.5,678.6 174.0,678.6 174.0,678.5 174.0,678.0 174.0,677.4 174.5,677.4 176.5,677.4 176.5,673.5 176.5,671.1 176.8,671.1 176.8,665.3 178.2,665.3 178.2,657.6 178.5,657.6 180.0,657.6 180.0,652.0 180.0,647.7 181.5,647.7 181.5,644.4 182.5,644.4 182.5,642.2 185.3,642.2 185.3,636.0 186.0,636.0 186.0,629.3 187.9,629.3 187.9,628.1 190.0,628.1 190.8,628.1 190.8,623.3 191.8,623.3 191.8,616.6 191.8,615.0 192.0,615.0 192.0,612.4 192.0,612.4 192.0,606.7 192.2,606.7 192.4,606.7 192.4,598.5 195.1,598.5 195.1,595.4 195.1,593.4 197.4,593.4 199.0,593.4 199.0,592.0 199.0,589.1 199.7,589.1 202.3,589.1 202.3,584.8 202.3,579.9 202.4,579.9 202.4,579.5 204.7,579.5 206.0,579.5 206.0,572.0 209.2,572.0 209.2,570.3 210.4,570.3 210.4,569.5 210.9,569.5 210.9,559.6 210.9,555.3 212.3,555.3 213.0,555.3 213.0,552.0 214.1,552.0 214.1,546.5 214.1,543.2 219.3,543.2 220.3,543.2 220.3,543.1 220.5,543.1 220.5,536.4 220.5,532.0 221.0,532.0 221.0,531.5 221.8,531.5 223.5,531.5 223.5,524.7 228.7,524.7 228.7,516.3 229.5,516.3 229.5,515.6 229.5,515.0 230.0,515.0 230.0,509.2 230.4,509.2 231.4,509.2 231.4,503.1 231.4,502.0 233.0,502.0 237.9,502.0 237.9,498.9 237.9,498.0 238.0,498.0 238.0,497.5 238.5,497.5 241.5,497.5 241.5,494.5 241.5,491.2 245.0,491.2 245.0,487.4 246.1,487.4 246.1,485.6 247.1,485.6 252.5,485.6 252.5,481.2 252.5,479.8 254.6,479.8 257.1,479.8 257.1,478.5 257.5,478.5 257.5,472.5 257.5,470.9 258.9,470.9 258.9,463.8 260.0,463.8 263.0,463.8 263.0,457.3 263.3,457.3 263.3,456.0 263.3,455.3 267.5,455.3 267.5,455.3 267.5,452.0 267.5,451.3 268.3,451.3 268.3,450.3 269.6,450.3 272.3,450.3 272.3,450.1 275.3,450.1 275.3,439.9 275.3,439.1 279.7,439.1 280.0,439.1 280.0,435.0 281.8,435.0 281.8,431.5 281.8,429.6 285.8,429.6 286.2,429.6 286.2,427.5 286.7,427.5 286.7,427.0 286.7,427.0 286.7,417.7 290.0,417.7 290.0,417.5 290.0,415.1 294.6,415.1 294.6,413.8 296.2,413.8 296.2,406.9 298.0,406.9 303.8,406.9 303.8,406.9 303.8,405.0 305.0,405.0 311.5,405.0 311.5,399.7 311.9,399.7 311.9,397.5 311.9,397.5 313.8,397.5 314.0,397.5 314.0,397.1 316.0,397.1 316.0,396.0 316.0,385.6 317.5,385.6 320.0,385.6 320.0,385.0 320.0,385.0 320.1,385.0 320.4,385.0 320.4,384.1 320.4,374.2 321.1,374.2 321.1,372.0 328.0,372.0 329.8,372.0 329.8,367.4 329.8,365.2 332.2,365.2 332.2,364.9 337.8,364.9 337.8,360.0 338.0,360.0 339.3,360.0 339.3,355.5 344.2,355.5 344.2,351.9 345.0,351.9 345.0,350.0 348.2,350.0 348.2,349.3 348.2,343.8 351.2,343.8 351.2,337.0 354.8,337.0 357.1,337.0 357.1,335.8 358.0,335.8 358.0,334.0 358.0,323.7 358.9,323.7 358.9,323.6 363.5,323.6 363.5,322.0 364.0,322.0 364.0,321.9 366.2,321.9 366.2,318.6 369.1,318.6 370.0,318.6 370.0,312.5 370.7,312.5 370.7,311.1 375.8,311.1 375.8,308.2 376.9,308.2 376.9,302.3 377.5,302.3 377.5,301.2 382.1,301.2 382.1,295.3 383.6,295.3 383.6,292.8 387.2,292.8 387.2,291.3 387.2,291.2 390.0,291.2 390.0,286.0 390.5,286.0 390.7,286.0 390.7,285.0 390.7,282.5 395.0,282.5 401.9,282.5 401.9,282.1 401.9,277.6 402.8,277.6 402.8,277.5 405.0,277.5 405.0,275.7 406.2,275.7 410.5,275.7 410.5,268.3 412.5,268.3 412.5,267.5 412.5,266.8 416.5,266.8 419.0,266.8 419.0,263.7 421.2,263.7 421.2,261.2 431.4,261.2 431.4,260.2 433.2,260.2 437.0,260.2 437.0,257.8 437.0,257.5 437.5,257.5 437.7,257.5 437.7,255.8 437.7,251.2 440.0,251.2 443.9,251.2 443.9,250.9 443.9,248.0 446.2,248.0 446.2,248.4 448.3,248.4 448.3,248.5 457.7,248.5 460.0,248.5 460.0,248.8 460.0,248.1 464.2,248.1 464.2,242.5 465.0,242.5 465.0,241.3 477.1,241.3 477.1,240.8 477.4,240.8 477.5,240.8 477.5,240.0 477.5,236.7 485.4,236.7 487.4,236.7 487.4,233.5 487.4,232.5 487.5,232.5 493.2,232.5 493.2,230.0 493.2,227.1 496.8,227.1 498.0,227.1 498.0,227.0 498.0,227.0 506.2,227.0 506.8,227.0 506.8,223.0 506.8,222.5 511.2,222.5 511.5,222.5 511.8,222.5 526.2,222.5 535.0,222.5 535.0,221.4 535.0,218.9 537.3,218.9 538.8,218.9 538.8,217.5 538.8,216.3 539.6,216.3 541.2,216.3 541.2,211.2 542.4,211.2 542.4,207.2 542.4,205.1 543.2,205.1 543.2,200.0 546.2,200.0 549.9,200.0 549.9,198.5 549.9,197.5 552.5,197.5 557.3,197.5 557.3,194.5 557.3,193.5 559.8,193.5 559.8,191.2 560.0,191.2 564.5,191.2 564.5,188.9 564.5,187.8 566.4,187.8 566.4,185.0 574.6,185.0 575.0,185.0 575.0,185.0 579.8,185.0 579.8,184.6 579.8,184.4 582.6,184.4 582.6,182.8 584.9,182.8 584.9,180.0 590.0,180.0 590.0,177.7 591.0,177.7 593.8,177.7 593.8,172.5 593.8,170.7 600.9,170.7 602.3,170.7 602.3,167.9 603.8,167.9 603.8,166.2 603.8,166.2 605.3,166.2 610.0,166.2 610.0,162.5 616.5,162.5 616.5,162.3 617.5,162.3 617.5,161.2 617.5,160.8 619.6,160.8 619.6,160.7 633.4,160.7 633.4,159.8 634.8,159.8 634.8,159.4 635.5,159.4 635.5,157.5 637.5,157.5 637.5,156.5 638.0,156.5 638.0,156.0 641.9,156.0 644.0,156.0 644.0,155.8 644.0,155.0 657.5,155.0 657.5,154.0 658.5,154.0 658.5,150.3 659.0,150.3 666.0,150.3 666.0,148.0 673.5,148.0 673.5,147.9 674.2,147.9 674.2,147.7 674.2,147.5 678.7,147.5 678.7,145.9 682.4,145.9 690.1,145.9 690.1,145.2 690.1,145.1 691.1,145.1 696.8,145.1 696.8,144.3 696.8,142.9 698.9,142.9 707.0,142.9 707.0,141.6 707.0,141.0 710.0,141.0 710.0,140.5 712.1,140.5 712.1,140.4 713.2,140.4 727.8,140.4 727.8,140.3 727.8,140.0 730.0,140.0 738.4,140.0 738.4,137.4 740.6,137.4 740.6,136.7 745.5,136.7 745.5,136.0 747.5,136.0 752.5,136.0 752.5,133.7 756.1,133.7 756.1,133.6 756.1,132.5 760.0,132.5 760.0,131.0 768.3,131.0 772.9,131.0 772.9,130.5 772.9,130.4 774.7,130.4 775.6,130.4 775.6,130.1 784.0,130.1 784.0,130.0 784.0,127.5 788.5,127.5 790.7,127.5 790.7,127.4 790.7,126.2 799.1,126.2 799.1,123.7 801.0,123.7 801.0,123.5 801.8,123.5 801.8,123.1 813.1,123.1 813.1,122.6 815.1,122.6 817.1,122.6 817.1,122.5 826.0,122.5 826.0,122.4 837.1,122.4 837.5,122.4 837.5,122.4 837.5,122.4 837.5,122.2 845.8,122.2 845.8,122.2 849.4,122.2 849.4,122.1 857.0,122.1 857.0,122.0 857.0,121.7 857.3,121.7 868.9,121.7 868.9,118.2 870.0,118.2 870.0,117.5 870.0,116.2 873.0,116.2 873.0,115.8 875.8,115.8 884.5,115.8 884.5,115.0 884.5,114.6 887.1,114.6 899.7,114.6 899.7,114.6 899.7,113.7 900.0,113.7 900.0,112.6 902.6,112.6 902.6,112.1 905.2,112.1 905.4,112.1 905.4,112.1 912.8,112.1 912.8,111.9 925.0,111.9 925.0,111.0 925.0,110.9 930.4,110.9 930.4,110.5 932.6,110.5 943.1,110.5 943.1,110.2 943.9,110.2 943.9,110.0 943.9,109.9 950.5,109.9 952.0,109.9 952.0,108.5" fill="none" stroke="#28E2E5" stroke-width="5.0" stroke-linejoin="round" stroke-linecap="round"/>
<polyline points="154.0,822.0 153.8,805.0 154.4,785.0 157.5,760.0 161.2,742.5 166.9,718.8 172.5,700.0 181.2,667.5 191.2,630.0 202.5,602.5 218.0,580.0 230.0,557.5 240.0,530.0 250.0,512.5 260.0,496.2 275.0,477.5 288.8,462.0 311.2,437.5 332.5,415.0 355.0,393.8 377.5,373.8 392.5,355.0 407.5,337.5 425.0,317.5 442.5,298.8 464.0,278.8 481.2,262.5 515.0,242.5 540.0,227.5 564.0,213.8 600.0,198.3 620.0,190.0 640.0,181.5 674.0,172.5 688.0,168.0 784.0,143.0 868.0,127.0 952.0,109.5" fill="none" stroke="#F5C710" stroke-width="5.0" stroke-linejoin="round" stroke-linecap="round"/>
<polyline points="154.0,822.0 154.2,822.0 154.2,820.1 154.2,817.4 154.4,817.4 154.4,816.6 155.1,816.6 155.1,800.0 155.5,800.0 155.5,800.0 155.6,800.0 155.9,800.0 155.9,799.7 155.9,795.3 156.3,795.3 156.3,792.9 158.2,792.9 158.2,782.5 158.8,782.5 159.0,782.5 159.0,776.6 159.0,775.9 161.4,775.9 163.1,775.9 163.1,770.9 163.1,770.9 163.1,765.0 163.1,764.0 163.5,764.0 163.5,750.8 164.9,750.8 166.2,750.8 166.2,750.0 166.6,750.0 166.6,741.8 166.6,738.8 166.9,738.8 166.9,735.5 168.9,735.5 172.5,735.5 172.5,735.0 172.7,735.0 172.7,728.1 175.0,728.1 175.0,725.0 175.0,721.9 177.1,721.9 177.1,718.8 177.5,718.8 177.8,718.8 177.8,717.9 177.8,717.9 177.8,707.5 177.8,706.2 178.1,706.2 178.1,702.0 179.4,702.0 179.4,698.1 179.4,698.1 180.0,698.1 180.0,695.9 181.2,695.9 181.2,687.5 181.2,683.5 182.0,683.5 182.0,683.5 182.0,681.5 182.0,672.2 183.0,672.2 183.0,668.0 184.1,668.0 184.1,667.5 185.6,667.5 185.6,662.4 186.0,662.4 186.0,660.2 186.4,660.2 186.4,657.2 186.4,657.2 187.5,657.2 187.5,650.0 187.5,648.9 188.4,648.9 188.4,637.6 188.8,637.6 188.8,632.8 189.5,632.8 190.0,632.8 190.0,632.5 194.4,632.5 194.4,632.5 194.4,630.7 199.3,630.7 202.1,630.7 202.1,625.2 202.5,625.2 202.5,623.8 202.5,621.6 207.5,621.6 207.5,621.6 207.5,620.0 208.6,620.0 208.6,619.4 208.6,612.5 210.0,612.5 210.0,611.0 210.6,611.0 211.2,611.0 211.2,602.5 211.2,598.8 213.8,598.8 213.8,586.8 213.9,586.8 213.9,586.6 214.3,586.6 214.3,582.0 215.0,582.0 215.4,582.0 215.4,580.4 215.4,580.4 215.4,575.5 216.9,575.5 216.9,567.5 217.1,567.5 217.1,563.5 217.8,563.5 217.8,562.9 220.3,562.9 220.3,557.4 220.3,553.4 220.9,553.4 225.9,553.4 225.9,552.4 226.2,552.4 226.2,547.5 230.0,547.5 230.0,544.1 230.0,543.1 230.9,543.1 231.2,543.1 231.2,539.3 231.2,539.3 231.2,532.5 231.2,528.4 235.8,528.4 235.8,521.7 236.7,521.7 239.6,521.7 239.6,520.9 240.0,520.9 240.0,518.8 240.7,518.8 240.7,507.6 240.8,507.6 240.8,505.1 241.5,505.1 241.5,503.5 241.5,502.5 242.5,502.5 245.7,502.5 245.7,501.7 245.7,499.5 246.2,499.5 246.2,493.1 246.5,493.1 246.5,491.2 250.0,491.2 252.1,491.2 252.1,489.4 252.1,486.2 256.2,486.2 257.5,486.2 257.5,485.0 259.3,485.0 259.3,478.1 259.3,476.6 259.6,476.6 262.5,476.6 262.5,476.2 264.0,476.2 264.0,472.1 264.0,467.5 264.6,467.5 265.0,467.5 265.0,465.0 265.0,459.5 269.9,459.5 271.2,459.5 271.2,458.6 271.2,458.6 271.2,458.0 272.0,458.0 272.0,456.9 275.3,456.9 275.3,447.1 278.9,447.1 278.9,446.9 278.9,446.0 280.0,446.0 280.5,446.0 280.5,441.1 280.5,436.2 288.2,436.2 288.2,435.0 290.7,435.0 290.7,434.8 291.5,434.8 291.5,432.5 292.5,432.5 292.5,428.1 292.9,428.1 292.9,423.5 294.5,423.5 294.5,420.0 296.2,420.0 296.2,419.3 300.0,419.3 300.0,418.3 303.1,418.3 305.0,418.3 305.0,412.5 305.0,403.4 305.2,403.4 305.4,403.4 305.4,400.5 307.1,400.5 307.1,399.1 307.1,396.2 308.8,396.2 308.8,389.3 313.0,389.3 313.0,388.8 315.8,388.8 315.8,388.8 316.2,388.8 316.7,388.8 316.7,388.1 318.2,388.1 318.2,378.8 318.2,377.5 318.8,377.5 324.6,377.5 324.6,374.6 325.0,374.6 325.0,372.5 331.1,372.5 331.1,370.2 333.6,370.2 333.6,369.4 333.6,366.2 333.8,366.2 334.9,366.2 334.9,361.3 337.9,361.3 337.9,357.9 337.9,356.5 339.7,356.5 339.7,356.2 342.5,356.2 342.5,354.9 347.8,354.9 347.8,351.8 350.2,351.8 350.7,351.8 350.7,349.0 350.7,345.0 352.5,345.0 352.5,343.6 354.8,343.6 354.8,338.1 355.1,338.1 356.2,338.1 356.2,335.0 356.9,335.0 356.9,333.5 356.9,326.3 358.4,326.3 361.1,326.3 361.1,321.7 361.2,321.7 361.2,321.2 361.2,317.2 364.8,317.2 364.8,315.3 371.1,315.3 371.1,315.0 371.2,315.0 371.2,312.7 374.7,312.7 374.9,312.7 374.9,309.9 374.9,308.8 381.2,308.8 381.2,306.0 382.5,306.0 382.5,301.0 387.5,301.0 387.5,300.0 390.0,300.0 394.6,300.0 394.6,298.9 397.0,298.9 397.0,297.6 402.5,297.6 402.5,296.2 405.1,296.2 405.1,294.1 405.1,289.9 408.3,289.9 412.5,289.9 412.5,288.8 416.2,288.8 416.2,285.3 416.2,283.0 417.4,283.0 420.0,283.0 420.0,278.8 424.6,278.8 424.6,276.8 424.6,276.0 424.7,276.0 424.7,273.8 430.0,273.8 430.0,271.3 430.9,271.3 438.2,271.3 438.2,271.2 438.2,270.5 440.0,270.5 440.0,270.3 441.9,270.3 443.2,270.3 443.2,269.1 454.3,269.1 454.3,265.6 456.2,265.6 456.2,263.8 456.2,263.6 460.6,263.6 461.1,263.6 461.1,255.6 461.1,253.8 463.8,253.8 466.0,253.8 466.0,245.0 466.2,245.0 474.1,245.0 474.6,245.0 482.5,245.0 483.6,245.0 483.6,237.9 483.6,235.5 483.6,235.5 490.0,235.5 490.0,235.0 492.5,235.0 492.5,230.0 492.5,229.9 495.7,229.9 495.7,229.0 501.2,229.0 505.0,229.0 505.0,225.0 506.4,225.0 506.4,222.5 506.4,218.8 511.2,218.8 517.1,218.8 517.1,218.0 518.0,218.0 518.0,217.2 518.0,215.0 522.5,215.0 522.5,212.5 534.0,212.5 536.6,212.5 536.6,211.4 536.6,211.1 537.7,211.1 537.7,210.0 540.0,210.0 541.9,210.0 541.9,205.6 543.8,205.6 543.8,205.0 551.4,205.0 551.4,201.4 552.5,201.4 552.5,201.2 552.5,199.0 555.0,199.0 555.0,198.3 557.8,198.3 557.8,197.5 563.8,197.5 563.8,194.5 566.5,194.5 567.5,194.5 567.5,192.5 567.5,191.4 570.5,191.4 570.5,190.0 573.8,190.0 578.8,190.0 578.8,190.0 578.8,184.2 580.8,184.2 581.2,184.2 581.2,183.8 581.2,183.2 583.8,183.2 589.5,183.2 589.5,183.0 599.5,183.0 599.5,182.9 602.5,182.9 602.5,182.5 604.0,182.5 604.0,177.9 604.0,175.4 608.2,175.4 608.2,175.0 610.0,175.0 610.0,173.5 614.4,173.5 617.5,173.5 617.5,172.5 617.5,169.8 618.5,169.8 621.2,169.8 621.2,167.5 621.2,166.3 622.3,166.3 622.3,166.1 625.9,166.1 625.9,163.8 635.0,163.8 635.0,160.2 641.3,160.2 641.3,160.1 643.0,160.1 645.0,160.1 645.0,160.0 645.0,159.8 659.1,159.8 662.3,159.8 662.3,159.8 662.3,159.8 663.0,159.8 667.9,159.8 671.0,159.8 671.0,159.6 674.3,159.6 674.3,156.4 677.5,156.4 677.5,155.0 683.2,155.0 683.2,153.6 683.2,153.5 687.5,153.5 688.4,153.5 688.4,152.9 692.5,152.9 692.5,150.0 695.2,150.0 695.2,149.3 700.0,149.3 700.0,148.7 700.0,146.0 703.7,146.0 703.7,145.3 712.7,145.3 718.6,145.3 718.6,145.3 718.6,145.0 720.0,145.0 725.0,145.0 725.0,142.5 729.1,142.5 729.1,142.3 731.6,142.3 731.6,142.3 731.6,142.2 739.2,142.2 739.7,142.2 739.7,141.8 739.7,141.0 747.5,141.0 749.2,141.0 749.2,140.4 752.5,140.4 752.5,136.0 752.5,135.6 757.5,135.6 757.5,135.0 761.0,135.0 761.0,134.0 761.5,134.0 766.0,134.0 766.0,130.0 766.0,128.7 766.9,128.7 766.9,128.5 775.0,128.5 777.7,128.5 777.7,126.5 781.0,126.5 781.0,122.5 781.0,121.3 785.5,121.3 788.5,121.3 788.5,121.0 788.5,120.6 790.6,120.6 790.6,117.5 793.5,117.5 801.8,117.5 806.8,117.5 806.8,116.9 810.3,116.9 810.3,114.1 813.5,114.1 813.5,113.9 821.1,113.9 821.1,113.8 823.5,113.8 823.5,113.7 828.4,113.7 828.4,113.5 828.4,113.3 830.3,113.3 830.3,113.1 844.1,113.1 844.1,113.0 846.0,113.0 851.0,113.0 851.0,111.0 855.3,111.0 867.8,111.0 869.0,111.0 870.4,111.0 873.5,111.0 876.5,111.0 876.6,111.0 879.8,111.0 893.4,111.0 907.8,111.0 909.0,111.0 909.0,108.5 911.0,108.5 914.4,108.5 925.7,108.5 938.2,108.5 943.8,108.5 946.7,108.5 947.2,108.5 951.0,108.5 952.0,108.5" fill="none" stroke="#9E9E9E" stroke-width="5.0" stroke-linejoin="round" stroke-linecap="round"/>
</g>
<g id="axes">
<rect x="122.2" y="80.0" width="862.0999999999999" height="770.4" fill="none" stroke="#000" stroke-width="2"/>
<line x1="154.00" y1="850.4" x2="154.00" y2="866.4" stroke="#000" stroke-width="2"/>
<line x1="106.2" y1="822.00" x2="122.2" y2="822.00" stroke="#000" stroke-width="2"/>
<text x="154.00" y="906.2" text-anchor="middle" font-size="25.2">0.0</text>
<text transform="translate(86,822.00) rotate(-90)" text-anchor="middle" font-size="25.2">0.0</text>
<line x1="313.60" y1="850.4" x2="313.60" y2="866.4" stroke="#000" stroke-width="2"/>
<line x1="106.2" y1="679.28" x2="122.2" y2="679.28" stroke="#000" stroke-width="2"/>
<text x="313.60" y="906.2" text-anchor="middle" font-size="25.2">0.2</text>
<text transform="translate(86,679.28) rotate(-90)" text-anchor="middle" font-size="25.2">0.2</text>
<line x1="473.20" y1="850.4" x2="473.20" y2="866.4" stroke="#000" stroke-width="2"/>
<line x1="106.2" y1="536.56" x2="122.2" y2="536.56" stroke="#000" stroke-width="2"/>
<text x="473.20" y="906.2" text-anchor="middle" font-size="25.2">0.4</text>
<text transform="translate(86,536.56) rotate(-90)" text-anchor="middle" font-size="25.2">0.4</text>
<line x1="632.80" y1="850.4" x2="632.80" y2="866.4" stroke="#000" stroke-width="2"/>
<line x1="106.2" y1="393.84" x2="122.2" y2="393.84" stroke="#000" stroke-width="2"/>
<text x="632.80" y="906.2" text-anchor="middle" font-size="25.2">0.6</text>
<text transform="translate(86,393.84) rotate(-90)" text-anchor="middle" font-size="25.2">0.6</text>
<line x1="792.40" y1="850.4" x2="792.40" y2="866.4" stroke="#000" stroke-width="2"/>
<line x1="106.2" y1="251.12" x2="122.2" y2="251.12" stroke="#000" stroke-width="2"/>
<text x="792.40" y="906.2" text-anchor="middle" font-size="25.2">0.8</text>
<text transform="translate(86,251.12) rotate(-90)" text-anchor="middle" font-size="25.2">0.8</text>
<line x1="952.00" y1="850.4" x2="952.00" y2="866.4" stroke="#000" stroke-width="2"/>
<line x1="106.2" y1="108.40" x2="122.2" y2="108.40" stroke="#000" stroke-width="2"/>
<text x="952.00" y="906.2" text-anchor="middle" font-size="25.2">1.0</text>
<text transform="translate(86,108.40) rotate(-90)" text-anchor="middle" font-size="25.2">1.0</text>
<text x="552.5" y="966.2" text-anchor="middle" font-size="25.2">False positive rate</text>
<text transform="translate(25.3,466.8) rotate(-90)" text-anchor="middle" font-size="25.2">True positive rate</text>
<text transform="translate(553.1,28.5) scale(0.93,1)" text-anchor="middle" font-size="31" font-weight="bold">ROC</text>
</g>
<g id="legend">
<rect x="633.0" y="536.5" width="308.0" height="273.5" fill="#fff" stroke="#000" stroke-width="2"/>
<rect x="656" y="559.30" width="18" height="15.2" fill="#000000" stroke="#000" stroke-width="2"/>
<text x="696.5" y="575.60" font-size="25.2">NNET (AUC = 0.790)</text>
<rect x="656" y="589.73" width="18" height="15.2" fill="#DF536B" stroke="#000" stroke-width="2"/>
<text x="696.5" y="606.03" font-size="25.2">NB (AUC =0.786)</text>
<rect x="656" y="620.16" width="18" height="15.2" fill="#61D04F" stroke="#000" stroke-width="2"/>
<text x="696.5" y="636.46" font-size="25.2">LR (AUC = 0.797)</text>
<rect x="656" y="650.59" width="18" height="15.2" fill="#2297E6" stroke="#000" stroke-width="2"/>
<text x="696.5" y="666.89" font-size="25.2">GBM (AUC = 0.748)</text>
<rect x="656" y="681.02" width="18" height="15.2" fill="#28E2E5" stroke="#000" stroke-width="2"/>
<text x="696.5" y="697.32" font-size="25.2">Ada (AUC = 0.801)</text>
<rect x="656" y="711.45" width="18" height="15.2" fill="#CD0BBC" stroke="#000" stroke-width="2"/>
<text x="696.5" y="727.75" font-size="25.2">RF (AUC = 0.789)</text>
<rect x="656" y="741.88" width="18" height="15.2" fill="#F5C710" stroke="#000" stroke-width="2"/>
<text x="696.5" y="758.18" font-size="25.2">BT (AUC = 0.752)</text>
<rect x="656" y="772.31" width="18" height="15.2" fill="#9E9E9E" stroke="#000" stroke-width="2"/>
<text x="696.5" y="788.61" font-size="25.2">XGB (AUC = 0.781)</text>
</g>
</svg>
</body></html>
